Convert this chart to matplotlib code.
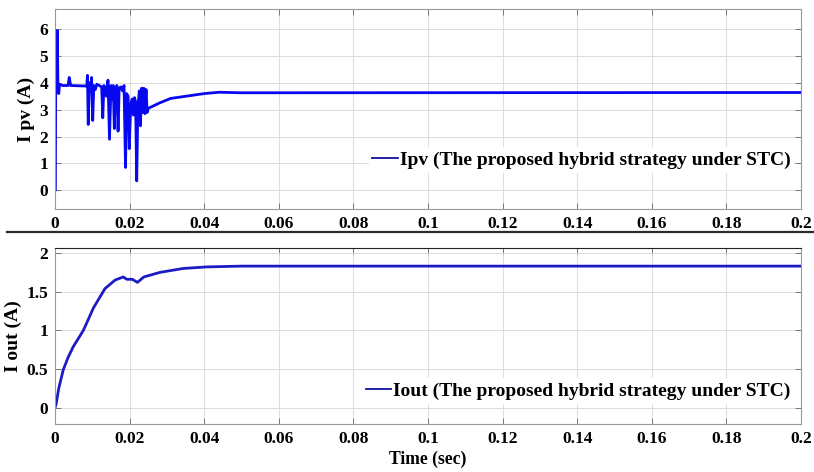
import matplotlib
matplotlib.use('Agg')
import matplotlib.pyplot as plt
from matplotlib.lines import Line2D

# --- data ---
t_pv = [0, 0.0001, 0.0002, 0.0004, 0.0006, 0.0008, 0.001, 0.0012, 0.002, 0.0035,
        0.0038, 0.0042, 0.0085, 0.0087, 0.0089, 0.0092, 0.0095, 0.0098, 0.0101, 0.0104,
        0.0108, 0.0112, 0.0125, 0.0128, 0.0131, 0.0135, 0.0138, 0.0142, 0.0146, 0.015,
        0.0153, 0.0156, 0.0159, 0.0162, 0.0166, 0.0169, 0.0172, 0.0176, 0.0181, 0.0185,
        0.0189, 0.0192, 0.0196, 0.0199, 0.0203, 0.0207, 0.021, 0.0213, 0.0216, 0.0219,
        0.0222, 0.0226, 0.0229, 0.0232, 0.0235, 0.0238, 0.0241, 0.0244, 0.0247, 0.025,
        0.028, 0.031, 0.035, 0.04, 0.044, 0.05, 0.2]
i_pv = [0, 0, 4.6, 4.0, 5.95, 3.7, 3.6, 3.95, 3.9, 3.9,
        4.2, 3.9, 3.88, 4.28, 2.45, 4.0, 3.7, 4.2, 2.6, 3.9,
        3.75, 3.95, 3.85, 2.7, 3.9, 3.8, 3.5, 4.1, 1.9, 3.9,
        3.4, 3.9, 2.3, 3.8, 3.9, 2.2, 3.8, 3.85, 3.7, 3.9,
        0.85, 3.6, 3.5, 1.55, 3.2, 3.4, 2.8, 3.45, 3.3, 0.35,
        3.1, 3.7, 2.4, 3.8, 2.9, 3.8, 2.85, 3.75, 2.9, 3.05,
        3.25, 3.42, 3.5, 3.6, 3.65, 3.63, 3.64]

t_out = [0, 0.0003, 0.001, 0.0022, 0.0035, 0.0049, 0.0076, 0.0103, 0.0134, 0.0161,
         0.0183, 0.0192, 0.0207, 0.0221, 0.0238, 0.0282, 0.0344, 0.0407, 0.05, 0.2]
i_out = [0, 0.05, 0.25, 0.49, 0.65, 0.79, 1.0, 1.29, 1.54, 1.65,
         1.69, 1.66, 1.66, 1.62, 1.69, 1.75, 1.80, 1.82, 1.83, 1.83]

x_ticks = [0, 0.02, 0.04, 0.06, 0.08, 0.1, 0.12, 0.14, 0.16, 0.18, 0.2]
x_labels = ['0', '0.02', '0.04', '0.06', '0.08', '0.1', '0.12', '0.14', '0.16', '0.18', '0.2']
pv_ticks = [0, 1, 2, 3, 4, 5, 6]
out_ticks = [0, 0.5, 1, 1.5, 2]
out_labels = ['0', '0.5', '1', '1.5', '2']

plt.rcParams['font.family'] = ['Liberation Serif', 'DejaVu Serif']
plt.rcParams['font.weight'] = 'bold'

fig = plt.figure(figsize=(8.14, 4.72), dpi=100)
ax1 = fig.add_axes([0.0676, 0.557, 0.9165, 0.424])
ax2 = fig.add_axes([0.0676, 0.1017, 0.9165, 0.373])


def style(ax, spine_col):
    ax.set_xlim(0, 0.2)
    ax.set_xticks(x_ticks)
    ax.set_xticklabels(x_labels)
    ax.grid(True, color='#dcdcdc', lw=0.7)
    ax.set_axisbelow(True)
    ax.tick_params(direction='in', top=True, right=True, length=4, width=0.6,
                   color='#666666', labelsize=12.5, pad=5)
    for s in ax.spines.values():
        s.set_color(spine_col)
        s.set_linewidth(0.8)
    for lab in ax.get_xticklabels() + ax.get_yticklabels():
        lab.set_fontweight('bold')


def add_legend(ax, col, text, ypos):
    leg = ax.legend([Line2D([], [], color=col, lw=1.3)], [text],
                    loc='center right', bbox_to_anchor=(0.991, ypos),
                    prop={'size': 14, 'weight': 'bold'}, handlelength=1.3,
                    handletextpad=0.1, borderpad=0.2, borderaxespad=0,
                    fancybox=False, framealpha=1)
    leg.get_frame().set_edgecolor('none')


ax1.plot(t_pv, i_pv, color='#0808f0', lw=2.0)
ax1.set_ylim(-0.7, 6.75)
ax1.set_yticks(pv_ticks)
style(ax1, '#999999')
ax1.set_ylabel('I pv (A)', fontsize=14, fontweight='bold', labelpad=3)
add_legend(ax1, '#1010a0', 'Ipv (The proposed hybrid strategy under STC)', 0.245)

ax2.plot(t_out, i_out, color='#1c1cc4', lw=2.0)
ax2.set_ylim(-0.21, 2.065)
ax2.set_yticks(out_ticks)
ax2.set_yticklabels(out_labels)
style(ax2, '#999999')
ax2.spines['top'].set_color('#222222')
ax2.set_ylabel('I out (A)', fontsize=14, fontweight='bold', labelpad=3)
ax2.set_xlabel('Time (sec)', fontsize=12.7, fontweight='bold', labelpad=3)
add_legend(ax2, '#1010a0', 'Iout (The proposed hybrid strategy under STC)', 0.1875)

# separator between the two panels
fig.add_artist(Line2D([0.008, 1.0], [0.5085, 0.5085], color='#2a2a2a', lw=1.6,
                      transform=fig.transFigure))

fig.savefig('out.png', dpi=100)
